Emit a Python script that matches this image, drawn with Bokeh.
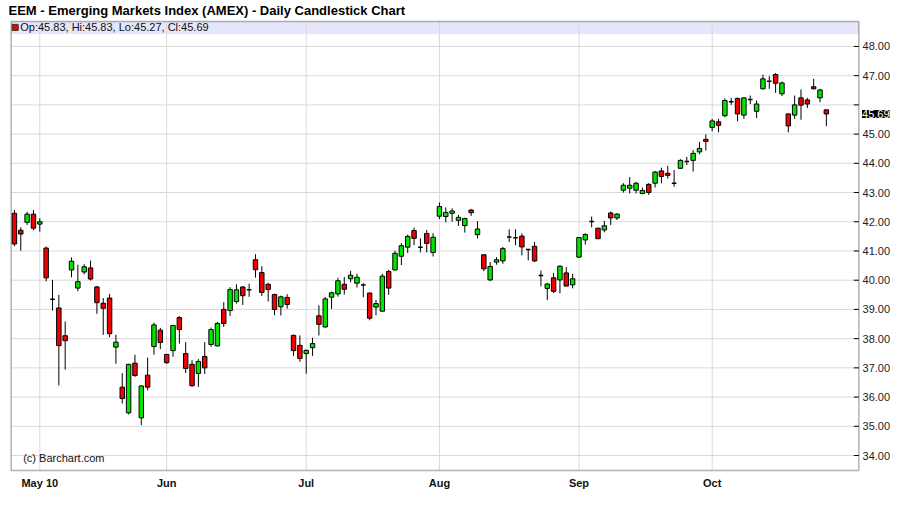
import pandas as pd
from bokeh.plotting import figure
from bokeh.models import FixedTicker, Range1d, BoxAnnotation, Label, ColumnDataSource
from bokeh.embed import file_html
from bokeh.resources import INLINE
from bokeh.core.properties import value

# ---------------- data ----------------
holidays = ["2010-05-31", "2010-07-05", "2010-09-06"]
dates = [d for d in pd.bdate_range("2010-04-27", "2010-10-27")
         if d.strftime("%Y-%m-%d") not in holidays]

opens = [42.29, 41.71, 41.98, 42.26, 41.92, 41.10, 39.35, 39.05, 38.10, 40.35,
         39.73, 40.28, 40.42, 39.77, 39.21, 39.39, 37.71, 36.34, 35.46, 37.16,
         35.29, 36.75, 37.73, 38.29, 37.46, 37.59, 38.72, 37.49, 37.12, 36.81,
         37.39, 37.80, 37.75, 39.00, 38.96, 39.27, 39.77, 39.67, 40.70, 40.26,
         39.86, 39.51, 39.09, 39.41, 38.11, 37.77, 37.49, 37.69, 38.78, 38.40,
         39.42, 39.53, 39.86, 40.05, 39.90, 39.84, 39.56, 39.08, 38.94, 40.30,
         40.35, 40.82, 41.13, 41.70, 41.13, 41.60, 40.95, 42.19, 42.18, 42.29,
         42.05, 41.87, 42.40, 41.56, 40.87, 40.01, 40.62, 40.66, 41.48, 41.45,
         41.51, 41.05, 41.16, 40.16, 39.72, 40.08, 40.01, 40.25, 39.84, 40.79,
         41.38, 42.01, 41.78, 41.72, 42.30, 42.13, 43.08, 43.15, 43.08, 42.97,
         43.28, 43.32, 43.74, 43.66, 43.32, 43.83, 44.06, 44.10, 44.39, 44.82,
         45.23, 45.42, 45.63, 46.11, 46.22, 45.65, 46.18, 45.78, 46.55, 46.81,
         47.04, 46.38, 45.69, 45.65, 46.24, 46.17, 46.62, 46.24, 45.83]
highs = [42.40, 41.81, 42.34, 42.40, 42.12, 41.15, 40.01, 39.50, 38.59, 40.78,
         40.53, 40.55, 40.67, 39.80, 39.39, 39.53, 38.13, 36.82, 37.14, 37.45,
         36.40, 37.35, 38.55, 38.37, 37.48, 38.47, 38.77, 37.88, 37.26, 37.30,
         37.88, 38.38, 38.57, 39.25, 39.76, 39.86, 39.79, 39.88, 40.89, 40.48,
         39.91, 39.54, 39.47, 39.52, 38.14, 38.11, 37.63, 38.03, 39.14, 39.42,
         39.61, 40.08, 40.11, 40.32, 40.22, 39.90, 39.58, 39.32, 40.22, 40.35,
         41.01, 41.27, 41.56, 41.80, 41.43, 41.72, 41.61, 42.66, 42.49, 42.46,
         42.23, 42.14, 42.44, 42.02, 40.88, 40.62, 40.79, 41.14, 41.74, 41.74,
         41.60, 41.07, 41.31, 40.33, 39.91, 40.25, 40.51, 40.45, 40.22, 41.48,
         41.61, 42.18, 41.79, 42.03, 42.35, 42.30, 43.32, 43.53, 43.36, 43.17,
         43.32, 43.74, 43.85, 43.91, 43.77, 44.14, 44.22, 44.45, 44.73, 44.99,
         45.52, 45.52, 46.22, 46.24, 46.25, 46.26, 46.32, 46.15, 47.03, 46.98,
         47.09, 46.80, 45.70, 46.32, 46.53, 46.24, 46.89, 46.55, 45.83]
lows = [41.16, 41.01, 41.89, 41.71, 41.66, 39.96, 38.96, 36.40, 36.94, 40.10,
        39.62, 40.20, 39.99, 38.85, 38.13, 38.05, 37.14, 35.78, 35.41, 36.69,
        35.04, 36.23, 37.45, 37.64, 37.13, 37.38, 37.83, 36.83, 36.35, 36.35,
        36.79, 37.72, 37.74, 38.40, 38.78, 39.20, 39.15, 39.43, 40.09, 39.46,
        39.27, 38.80, 38.79, 39.03, 37.41, 37.21, 36.80, 37.41, 38.11, 38.38,
        39.02, 39.44, 39.51, 39.93, 39.75, 39.42, 38.63, 38.80, 38.93, 39.50,
        40.34, 40.52, 40.93, 41.20, 40.95, 40.95, 40.81, 42.09, 41.98, 42.00,
        41.86, 41.63, 42.20, 41.43, 40.31, 39.97, 40.53, 40.56, 41.31, 41.20,
        40.85, 40.68, 40.62, 39.79, 39.32, 39.56, 39.55, 39.79, 39.72, 40.76,
        41.22, 41.81, 41.41, 41.64, 41.89, 42.06, 43.00, 42.97, 42.97, 42.94,
        42.92, 43.17, 43.32, 43.48, 43.20, 43.82, 43.94, 43.72, 44.31, 44.44,
        45.10, 45.06, 45.58, 46.00, 45.44, 45.52, 46.03, 45.55, 46.53, 46.55,
        46.41, 46.30, 45.06, 45.52, 45.49, 45.89, 46.53, 46.09, 45.27]
closes = [41.24, 41.58, 42.26, 41.78, 42.00, 40.08, 39.35, 37.76, 37.93, 40.65,
          39.95, 40.46, 40.04, 39.23, 39.04, 38.17, 37.88, 35.95, 37.12, 36.74,
          36.38, 36.34, 38.47, 37.87, 37.18, 38.45, 38.31, 36.98, 36.39, 37.22,
          37.00, 38.31, 38.52, 38.52, 39.68, 39.67, 39.47, 39.67, 40.36, 39.58,
          39.68, 39.00, 39.43, 39.17, 37.59, 37.32, 37.60, 37.83, 38.49, 39.36,
          39.57, 39.98, 39.69, 40.17, 40.10, 39.84, 38.70, 39.20, 40.14, 39.73,
          40.92, 41.18, 41.50, 41.43, 41.13, 41.26, 41.47, 42.52, 42.32, 42.37,
          42.15, 42.11, 42.31, 41.75, 40.39, 40.47, 40.70, 41.08, 41.48, 41.45,
          41.14, 41.05, 40.66, 40.16, 39.87, 39.62, 40.48, 39.80, 40.05, 41.46,
          41.56, 42.01, 41.42, 41.86, 42.13, 42.26, 43.25, 43.25, 43.32, 43.07,
          43.00, 43.70, 43.55, 43.59, 43.32, 44.10, 44.06, 44.34, 44.51, 44.75,
          45.45, 45.30, 46.15, 46.11, 45.69, 46.24, 46.18, 46.03, 46.89, 46.81,
          46.74, 46.75, 45.28, 46.00, 45.99, 46.03, 46.55, 46.51, 45.69]

month_labels = ["May 10", "Jun", "Jul", "Aug", "Sep", "Oct"]
price_ticks = list(range(34, 49))
title_text = "EEM - Emerging Markets Index (AMEX) - Daily Candlestick Chart"

# ---------------- derived ----------------
n = len(dates)
xs = list(range(n))
month_idx = []
seen = set()
for i, d in enumerate(dates):
    key = (d.year, d.month)
    if key not in seen:
        seen.add(key)
        if d.month >= 5:
            month_idx.append(i)

UP, DOWN = "#00e600", "#f00000"
body = dict(x=[], top=[], bottom=[], color=[])
doji = dict(x0=[], x1=[], y=[])
for i in xs:
    o, c = opens[i], closes[i]
    if abs(o - c) < 1e-9:
        doji["x0"].append(i - 0.36)
        doji["x1"].append(i + 0.36)
        doji["y"].append(o)
    else:
        body["x"].append(i)
        body["top"].append(max(o, c))
        body["bottom"].append(min(o, c))
        body["color"].append(UP if c > o else DOWN)

FONT = "Liberation Sans"

# box (chart area) limits in data space
BX0, BX1 = -0.509, 133.12     # left / right border of the chart box
BY0, BY1 = 33.488, 48.854     # bottom / top border of the chart box
BAND = 48.427                 # bottom of the info band

p = figure(width=900, height=505, output_backend="svg", toolbar_location=None, tools="",
           x_range=Range1d(-0.935, 138.9), y_range=Range1d(33.385, 48.956),
           min_border_left=8, min_border_right=5, min_border_top=17, min_border_bottom=32)
p.background_fill_color = "white"
p.border_fill_color = "white"
p.outline_line_color = None
p.grid.visible = False

p.title.text = title_text
p.title.text_font = FONT
p.title.text_font_size = "13px"
p.title.text_font_style = "bold"
p.title.text_color = "black"
p.title.align = "left"
p.title.offset = 0
p.title.standoff = 1

# info band
p.add_layout(BoxAnnotation(left=BX0, right=BX1, bottom=BAND, top=BY1, fill_color="#e6e6fa",
                           fill_alpha=1.0, line_color=None, level="image"))

# grid lines
p.segment(x0=[BX0] * len(price_ticks), x1=[BX1] * len(price_ticks), y0=price_ticks, y1=price_ticks,
          line_color="#d9d9d9", line_width=1, level="underlay")
p.segment(x0=month_idx, x1=month_idx, y0=[BY0] * len(month_idx), y1=[BY1] * len(month_idx),
          line_color="#d9d9d9", line_width=1, level="underlay")

# bottom axis (month labels)
xa = p.xaxis[0]
xa.ticker = FixedTicker(ticks=month_idx)
xa.major_label_overrides = {int(i): lab for i, lab in zip(month_idx, month_labels)}
xa.major_tick_in = 0
xa.major_tick_out = 0
xa.minor_tick_in = 0
xa.minor_tick_out = 0
xa.axis_line_color = None
xa.major_label_text_font = FONT
xa.major_label_text_font_size = "11px"
xa.major_label_text_font_style = "bold"
xa.major_label_text_color = "#111111"
xa.major_label_standoff = 3
p.yaxis.visible = False

# right price scale (ticks + labels)
shown = [t for t in price_ticks if t != 46]
p.segment(x0=[BX1 - 0.79] * len(price_ticks), x1=[BX1] * len(price_ticks), y0=price_ticks,
          y1=price_ticks, line_color="black", line_width=1)
p.text(x=[133.70] * len(shown), y=shown, text=[f"{t:.2f}" for t in shown],
       text_font=value(FONT), text_font_size="11px", text_color="#222222",
       text_baseline="middle", text_align="left")

# chart box border
p.add_layout(BoxAnnotation(left=BX0, right=BX1, bottom=BY0, top=BY1, fill_alpha=0,
                           line_color="black", line_width=1.5))

# candles
p.segment(x0=xs, y0=lows, x1=xs, y1=highs, line_color="black", line_width=1)
p.vbar(x="x", top="top", bottom="bottom", width=0.7, fill_color="color",
       line_color="black", line_width=1, source=ColumnDataSource(body))
p.segment(x0="x0", y0="y", x1="x1", y1="y", line_color="black", line_width=1.5,
          source=ColumnDataSource(doji))

# texts
p.rect(x=[0.12], y=[48.652], width=6, height=6, width_units="screen", height_units="screen",
       fill_color="#f00000", line_color="#333333", line_width=1)
legend_text = f"Op:{opens[-1]:.2f}, Hi:{highs[-1]:.2f}, Lo:{lows[-1]:.2f}, Cl:{closes[-1]:.2f}"
p.add_layout(Label(x=0.92, y=48.65, text=legend_text, text_font=FONT, text_font_size="11px",
                   text_baseline="middle", text_color="#111111"))
p.add_layout(Label(x=1.38, y=33.93, text="(c) Barchart.com", text_font=FONT, text_font_size="11px",
                   text_baseline="middle", text_color="#111111"))
p.add_layout(Label(x=133.62, y=closes[-1], text=f"{closes[-1]:.2f}", text_font=FONT,
                   text_font_size="11px", text_baseline="middle", text_color="white",
                   background_fill_color="black"))

open("out.html", "w").write(file_html(p, INLINE))
